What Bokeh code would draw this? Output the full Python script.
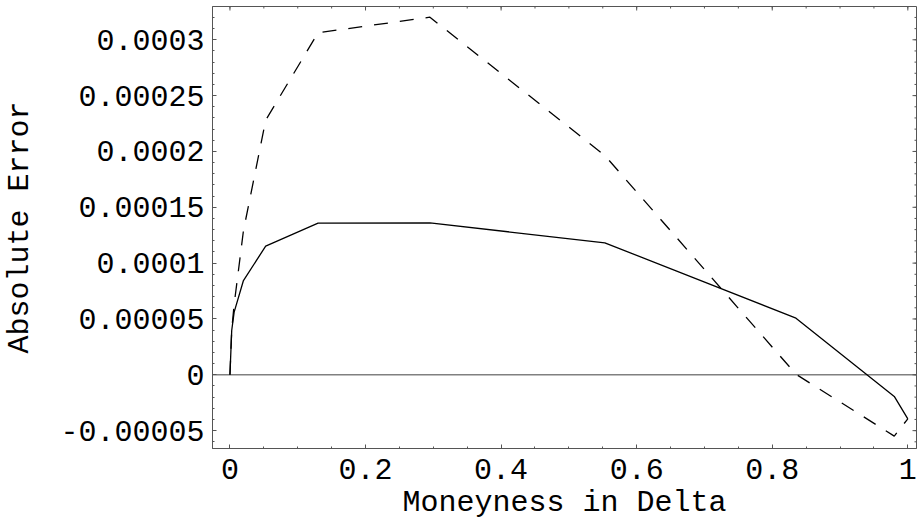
import numpy as np
from bokeh.plotting import figure
from bokeh.models import FixedTicker, CustomJSTickFormatter, Span, Range1d
from bokeh.embed import file_html
from bokeh.resources import INLINE

# Moneyness (in delta) at which the absolute errors were evaluated
delta = [0.0, 0.0026, 0.0062, 0.0199, 0.0527, 0.130, 0.295, 0.553, 0.835, 0.980, 1.0]

# Absolute error of the two approximations
error_solid = [0.0, 0.0000397, 0.0000561, 0.0000844, 0.0001152, 0.0001358,
               0.0001360, 0.0001182, 0.0000507, -0.0000194, -0.0000394]
error_dashed = [0.0, 0.0000400, 0.0000630, 0.0001290, 0.0002280, 0.0003063,
                0.0003202, 0.0001964, 0.0000005, -0.0000549, -0.0000394]

# Axis ticks
x_major = [0.0, 0.2, 0.4, 0.6, 0.8, 1.0]
x_minor = [round(v, 2) for v in np.arange(-0.05, 1.051, 0.05)]
y_major = [-0.00005, 0.0, 0.00005, 0.0001, 0.00015, 0.0002, 0.00025, 0.0003]
y_minor = [round(v, 6) for v in np.arange(-0.00007, 0.000331, 0.00001)]

X_START, X_END = -0.02574, 1.0128
Y_START, Y_END = -0.000066, 0.0003298

FONT = "Liberation Mono"
FRAME = "#555555"

p = figure(width=918, height=524,
           x_range=Range1d(X_START, X_END),
           y_range=Range1d(Y_START, Y_END),
           output_backend="svg", toolbar_location=None,
           min_border_left=210, min_border_right=2,
           min_border_top=6, min_border_bottom=76,
           x_axis_label="Moneyness in Delta",
           y_axis_label="Absolute Error")
p.grid.visible = False
p.outline_line_color = FRAME
p.background_fill_color = "white"
p.border_fill_color = "white"

fmt = CustomJSTickFormatter(code="""
    if (Math.abs(tick) < 1e-12) return "0";
    return String(parseFloat(tick.toPrecision(6)));
""")

xt = FixedTicker(ticks=x_major, minor_ticks=x_minor)
yt = FixedTicker(ticks=y_major, minor_ticks=y_minor)

for ax, ticker in ((p.xaxis[0], xt), (p.yaxis[0], yt)):
    ax.ticker = ticker
    ax.formatter = fmt
    ax.major_tick_in = 4
    ax.major_tick_out = 0
    ax.minor_tick_in = 2
    ax.minor_tick_out = 0
    ax.axis_line_color = FRAME
    ax.major_tick_line_color = FRAME
    ax.minor_tick_line_color = FRAME
    ax.major_label_text_font = FONT
    ax.major_label_text_font_size = "30px"
    ax.major_label_text_color = "black"
    ax.axis_label_text_font = FONT
    ax.axis_label_text_font_size = "30px"
    ax.axis_label_text_font_style = "normal"
    ax.axis_label_text_color = "black"

p.xaxis[0].major_label_standoff = 10
p.xaxis[0].axis_label_standoff = 4
p.yaxis[0].major_label_standoff = 8
p.yaxis[0].axis_label_standoff = 20

# inward ticks along the top and right edges of the frame
x_minor_in = [v for v in x_minor if X_START <= v <= X_END]
y_minor_in = [v for v in y_minor if Y_START <= v <= Y_END]
p.ray(x=x_major, y=[Y_END] * len(x_major), length=4, length_units="screen",
      angle=-np.pi / 2, line_color=FRAME, line_width=1)
p.ray(x=x_minor_in, y=[Y_END] * len(x_minor_in), length=2, length_units="screen",
      angle=-np.pi / 2, line_color=FRAME, line_width=1)
p.ray(x=[X_END] * len(y_major), y=y_major, length=4, length_units="screen",
      angle=np.pi, line_color=FRAME, line_width=1)
p.ray(x=[X_END] * len(y_minor_in), y=y_minor_in, length=2, length_units="screen",
      angle=np.pi, line_color=FRAME, line_width=1)

# zero reference line
p.add_layout(Span(location=0, dimension="width", line_color="#808080",
                  line_width=1.6, level="underlay"))

p.line(delta, error_solid, line_color="black", line_width=1.3)
p.line(delta, error_dashed, line_color="black", line_width=1.3,
       line_dash="14 12")

open("out.html", "w").write(file_html(p, INLINE))
